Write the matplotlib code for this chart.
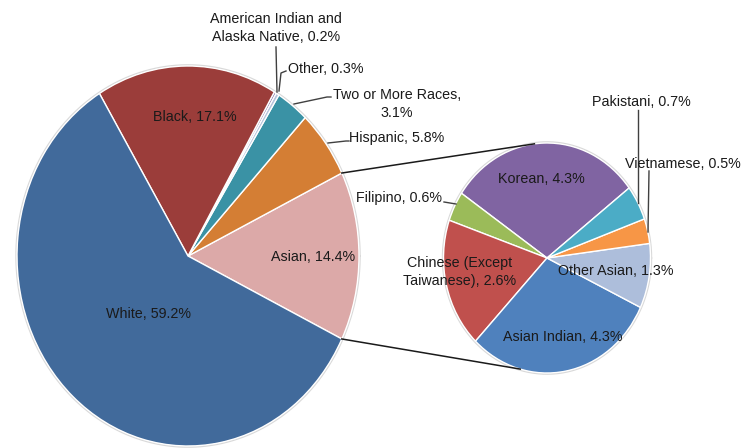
# Pie-of-pie: population by race, with the Asian slice broken out
import numpy as np
import matplotlib
matplotlib.use("Agg")
import matplotlib.pyplot as plt

plt.rcParams['font.family'] = ['Liberation Sans', 'DejaVu Sans']

# main pie (counterclockwise from the Asian slice)
main_labels = ["Asian", "Hispanic", "Two or More Races", "Other",
               "American Indian and Alaska Native", "Black", "White"]
main_values = [14.4, 5.8, 3.1, 0.3, 0.2, 17.1, 59.2]
main_colors = ["#DCA9A8", "#D47E34", "#3A92A5", "#B7C3DC", "#7D68A0",
               "#9B3D3A", "#416A9B"]

# secondary pie: breakdown of Asian (counterclockwise from Korean)
sub_labels = ["Korean", "Filipino", "Chinese (Except Taiwanese)", "Asian Indian",
              "Other Asian", "Vietnamese", "Pakistani"]
sub_values = [4.3, 0.6, 2.6, 4.3, 1.3, 0.5, 0.7]
sub_colors = ["#8064A2", "#9BBB59", "#C0504D", "#4F81BD", "#ADBEDB",
              "#F79646", "#4BACC6"]

W, H = 744, 448
SX = 0.9  # the picture is squeezed horizontally


def px(x, y):
    # pixel position -> data coords
    return x / SX, H - y


fig = plt.figure(figsize=(W / 100, H / 100), dpi=100)
ax = fig.add_axes([0, 0, 1, 1])

main_c = px(188, 256)
main_r = 190
sub_c = px(547, 258)
sub_r = 115

wp = dict(edgecolor="white", linewidth=1.0)
asian_span = main_values[0] / sum(main_values) * 360
start = -asian_span / 2
ax.pie(main_values, colors=main_colors, startangle=start, counterclock=True,
       center=main_c, radius=main_r, wedgeprops=wp, frame=True)
ax.pie(sub_values, colors=sub_colors, startangle=37.5, counterclock=True,
       center=sub_c, radius=sub_r, wedgeprops=wp, frame=True)

# faint outline round both pies
for c, r in [(main_c, main_r), (sub_c, sub_r)]:
    t = np.linspace(0, 2 * np.pi, 400)
    ax.plot(c[0] + (r + 1) * np.cos(t), c[1] + (r + 1) * np.sin(t),
            color="#d9d9d9", lw=1.2, zorder=0)


def edge(c, r, ang):
    a = np.radians(ang)
    return c[0] + r * np.cos(a), c[1] + r * np.sin(a)


# connector lines between the pies
for ma, sa in [(-start, 97), (start, -105)]:
    p1 = edge(main_c, main_r, ma)
    p2 = edge(sub_c, sub_r, sa)
    ax.plot([p1[0], p2[0]], [p1[1], p2[1]], color="#1a1a1a", lw=1.1, zorder=3)

ax.set_aspect("auto")
ax.set_xlim(0, W / SX)
ax.set_ylim(0, H)
ax.axis("off")

fs = 10.3
tc = "#1a1a1a"


def label(x, y, s, ha="center"):
    ax.text(*px(x, y), s, ha=ha, va="center", fontsize=fs, color=tc,
            linespacing=1.3, zorder=5)


def leader(pts):
    xs, ys = zip(*[px(*p) for p in pts])
    ax.plot(xs, ys, color="#404040", lw=1.0, zorder=4)


# main pie labels
label(195, 117, "Black, 17.1%")
label(313, 257, "Asian, 14.4%")
label(148, 314, "White, 59.2%")
label(276, 28, "American Indian and\nAlaska Native, 0.2%")
leader([(276, 47), (277, 92)])
label(288, 69, "Other, 0.3%", ha="left")
leader([(279, 91), (281, 73), (286, 71)])
label(397, 104, "Two or More Races,\n3.1%")
leader([(294, 104), (327, 97), (331, 97)])
label(349, 138, "Hispanic, 5.8%", ha="left")
leader([(328, 143), (346, 141), (349, 141)])

# secondary pie labels
label(541, 179, "Korean, 4.3%")
label(460, 272, "Chinese (Except\nTaiwanese), 2.6%")
label(616, 271, "Other Asian, 1.3%")
label(563, 337, "Asian Indian, 4.3%")
label(641, 102, "Pakistani, 0.7%")
leader([(638, 110), (638, 203)])
label(683, 164, "Vietnamese, 0.5%")
leader([(649, 171), (648, 232)])
label(399, 198, "Filipino, 0.6%")
leader([(444, 202), (456, 204)])

fig.savefig("out.png", dpi=100)
